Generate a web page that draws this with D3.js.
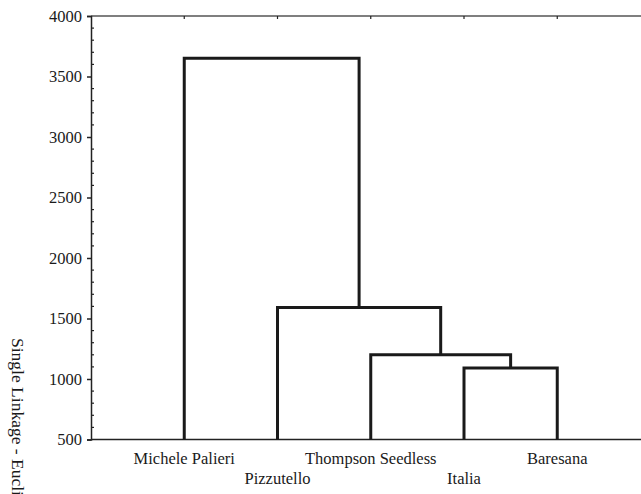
<!DOCTYPE html>
<html>
<head>
<meta charset="utf-8">
<script src="https://cdn.jsdelivr.net/npm/d3@7"></script>
<style>
  body { margin: 0; background: #fff; }
  svg { display: block; }
</style>
</head>
<body>
<svg id="chart" width="641" height="494"></svg>
<script>
// leaves in drawing order
const leaves = ["Michele Palieri", "Pizzutello", "Thompson Seedless", "Italia", "Baresana"];
// merges: left / right are leaf indices or "c<n>" for an earlier cluster
const mergeLeft = [3, 2, 1, 0];
const mergeRight = [4, "c0", "c1", "c2"];
const mergeHeight = [1090, 1200, 1590, 3650];
const yTicks = [500, 1000, 1500, 2000, 2500, 3000, 3500, 4000];

const svg = d3.select("#chart");
const font = "Liberation Serif, Times New Roman, serif";

const x = d3.scaleLinear().domain([0, leaves.length + 1]).range([91, 650.5]);
const y = d3.scaleLinear().domain([500, 4000]).range([439.5, 16]);

// frame: top line and bottom line
svg.append("line")
  .attr("x1", 91).attr("x2", 641)
  .attr("y1", y(4000)).attr("y2", y(4000))
  .attr("stroke", "#555").attr("stroke-width", 1.5);
svg.append("line")
  .attr("x1", 91).attr("x2", 641)
  .attr("y1", y(500)).attr("y2", y(500))
  .attr("stroke", "#222").attr("stroke-width", 1.5);

// small ticks on the top line at leaf positions
leaves.forEach((d, i) => {
  svg.append("line")
    .attr("x1", x(i + 1)).attr("x2", x(i + 1))
    .attr("y1", y(4000)).attr("y2", y(4000) + 3)
    .attr("stroke", "#222").attr("stroke-width", 1.2);
});

// left axis
const yAxis = svg.append("g")
  .attr("transform", "translate(91,0)")
  .call(d3.axisLeft(y).tickValues(yTicks).tickSize(4).tickPadding(5).tickFormat(d3.format("d")));
yAxis.select(".domain").attr("stroke", "#222").attr("stroke-width", 1.5);
yAxis.selectAll(".tick line").attr("stroke", "#222").attr("stroke-width", 1.5);
yAxis.selectAll(".tick text")
  .style("font", `16.5px ${font}`).attr("fill", "#1a1a1a");

// minor ticks inside
d3.range(600, 4000, 100).filter(v => v % 500 !== 0).forEach(v => {
  svg.append("line")
    .attr("x1", 91).attr("x2", 94)
    .attr("y1", y(v)).attr("y2", y(v))
    .attr("stroke", "#222").attr("stroke-width", 1.2);
});

// dendrogram
const nodes = [];
function pos(ref) {
  if (typeof ref === "number") return { x: x(ref + 1), h: 500 };
  return nodes[+ref.slice(1)];
}
const g = svg.append("g")
  .attr("fill", "none").attr("stroke", "#1a1a1a").attr("stroke-width", 3)
  .attr("stroke-linejoin", "miter");
mergeHeight.forEach((h, i) => {
  const a = pos(mergeLeft[i]);
  const b = pos(mergeRight[i]);
  g.append("path").attr("d",
    `M${a.x},${y(a.h)}V${y(h)}H${b.x}V${y(b.h)}`);
  nodes.push({ x: (a.x + b.x) / 2, h: h });
});

// leaf labels, staggered
leaves.forEach((d, i) => {
  svg.append("text")
    .attr("x", x(i + 1))
    .attr("y", i % 2 === 0 ? 464 : 484)
    .attr("text-anchor", "middle")
    .style("font", `16.5px ${font}`)
    .attr("fill", "#1a1a1a")
    .text(d);
});

// y axis title (cut off by the window, as in the original)
svg.append("text")
  .attr("transform", "translate(12,338) rotate(90)")
  .style("font", `17.5px ${font}`)
  .attr("fill", "#1a1a1a")
  .text("Single Linkage - Euclidean distances");
</script>
</body>
</html>
